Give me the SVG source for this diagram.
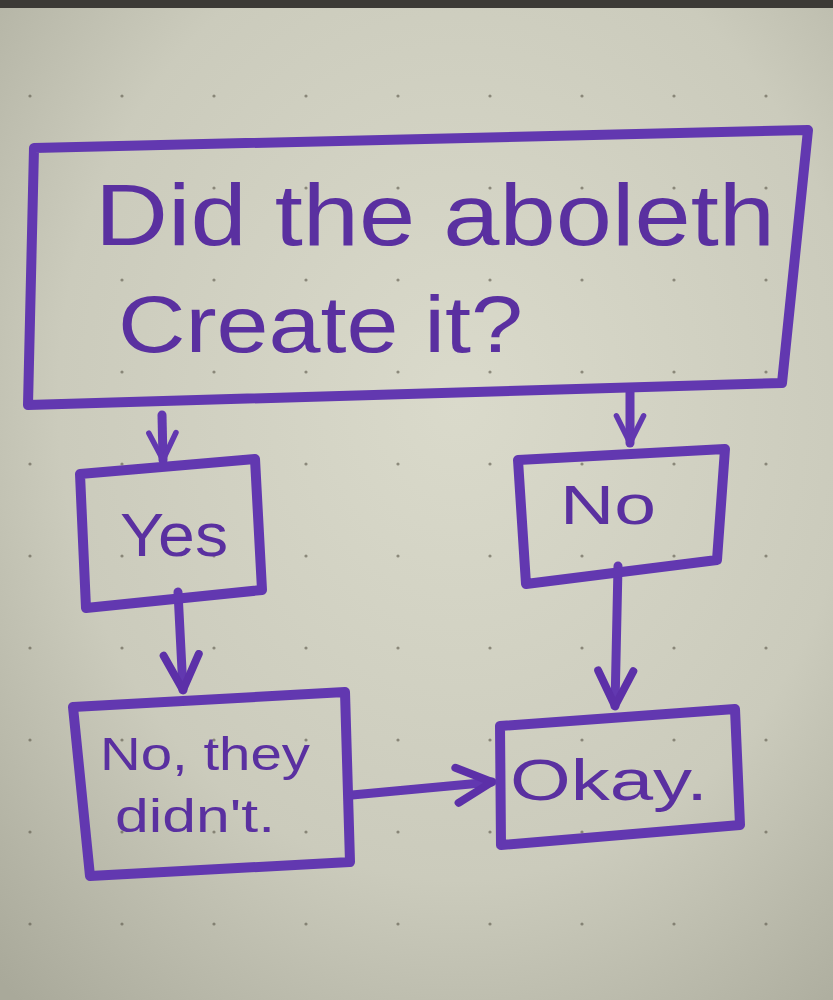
<svg xmlns="http://www.w3.org/2000/svg" width="833" height="1000" viewBox="0 0 833 1000">
<defs>
<radialGradient id="bg" cx="0.55" cy="0.4" r="0.8">
<stop offset="0" stop-color="#dadacb"/>
<stop offset="0.6" stop-color="#cbcbbc"/>
<stop offset="1" stop-color="#a9a99a"/>
</radialGradient>
<pattern id="dots" width="92" height="92" patternUnits="userSpaceOnUse" x="10" y="0">
<circle cx="20" cy="4" r="1.6" fill="#5a5648"/>
</pattern>
<marker id="arr" viewBox="0 0 20 20" refX="18" refY="10" markerWidth="34" markerHeight="34" markerUnits="userSpaceOnUse" orient="auto">
<path d="M2,2 L18,10 L2,18" fill="none" stroke="#6238b0" stroke-width="3.2" stroke-linecap="round" stroke-linejoin="round"/>
</marker>
<marker id="arrBig" viewBox="0 0 20 20" refX="18" refY="10" markerWidth="44" markerHeight="44" markerUnits="userSpaceOnUse" orient="auto">
<path d="M2,2 L18,10 L2,18" fill="none" stroke="#5c30a8" stroke-width="3.6" stroke-linecap="round" stroke-linejoin="round"/>
</marker>
</defs>
<style>
.box{fill:none;stroke:#6238b0;stroke-width:10;stroke-linejoin:round;stroke-linecap:round}
.con{fill:none;stroke:#6238b0;stroke-width:9;stroke-linecap:round}
.t{font-family:"Liberation Sans","DejaVu Sans",sans-serif;fill:#5a30a0}
</style>
<rect x="0" y="0" width="833" height="1000" fill="url(#bg)"/>
<rect x="0" y="0" width="833" height="1000" fill="url(#dots)" opacity="0.6"/>
<rect x="0" y="0" width="833" height="8" fill="#3c3a36"/>

<g id="connectors">
<path class="con" d="M162,415 L163,460" marker-end="url(#arr)"/>
<path class="con" d="M630,390 L630,443" marker-end="url(#arr)"/>
<path class="con" d="M178,592 L183,690" marker-end="url(#arrBig)"/>
<path class="con" d="M618,566 L615,706" marker-end="url(#arrBig)"/>
<path class="con" d="M352,795 L492,782" marker-end="url(#arrBig)"/>
</g>

<g id="question">
<polygon class="box" points="34,148 808,130 782,383 28,405"/>
<text class="t" x="95" y="245" font-size="88" textLength="680" lengthAdjust="spacingAndGlyphs">Did the aboleth</text>
<text class="t" x="118" y="352" font-size="80" textLength="405" lengthAdjust="spacingAndGlyphs">Create it?</text>
</g>

<g id="yes">
<polygon class="box" points="80,474 255,459 262,590 86,608"/>
<text class="t" x="120" y="556" font-size="62" textLength="108" lengthAdjust="spacingAndGlyphs">Yes</text>
</g>

<g id="no">
<polygon class="box" points="518,460 725,449 717,560 526,584"/>
<text class="t" x="560" y="524" font-size="56" textLength="96" lengthAdjust="spacingAndGlyphs">No</text>
</g>

<g id="didnt">
<polygon class="box" points="73,707 345,692 350,862 90,876"/>
<text class="t" x="100" y="770" font-size="46" textLength="210" lengthAdjust="spacingAndGlyphs">No, they</text>
<text class="t" x="115" y="832" font-size="46" textLength="160" lengthAdjust="spacingAndGlyphs">didn't.</text>
</g>

<g id="okay">
<polygon class="box" points="500,726 735,709 740,825 501,845"/>
<text class="t" x="510" y="800" font-size="58" textLength="198" lengthAdjust="spacingAndGlyphs">Okay.</text>
</g>
</svg>
